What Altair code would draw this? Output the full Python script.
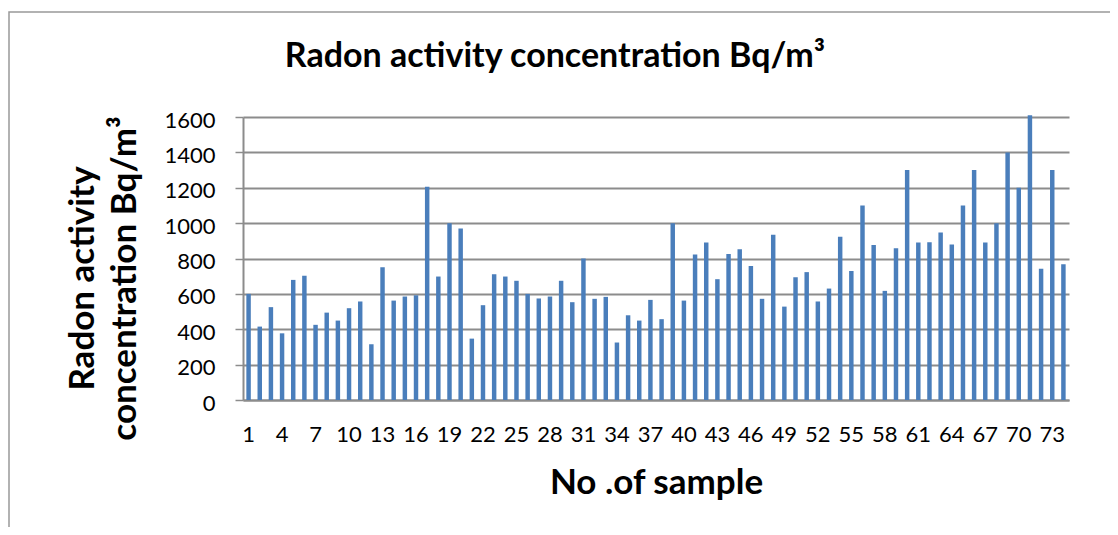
import altair as alt
import pandas as pd

samples = list(range(1, 75))
radon = [600, 415, 525, 377, 679, 702, 425, 494, 449, 519,
         557, 315, 751, 562, 585, 592, 1205, 698, 1000, 970,
         347, 536, 711, 698, 674, 600, 574, 585, 674, 553,
         800, 572, 583, 325, 479, 449, 566, 457, 1000, 562,
         823, 891, 683, 826, 853, 758, 572, 934, 528, 694,
         723, 557, 630, 923, 730, 1100, 877, 617, 858, 1300,
         891, 892, 947, 879, 1100, 1300, 891, 1000, 1400, 1200,
         1610, 742, 1300, 768]
x_tick_values = list(range(1, 75, 3))
y_tick_values = [0, 200, 400, 600, 800, 1000, 1200, 1400, 1600]

df = pd.DataFrame({"sample": samples, "radon": radon})

FONT = "Lato"

bars = alt.Chart(df).mark_bar(color="#4a7ebb").encode(
    x=alt.X(
        "sample:O",
        scale=alt.Scale(paddingInner=0.6, paddingOuter=0.3),
        axis=alt.Axis(
            values=x_tick_values,
            labelAngle=0,
            ticks=False,
            grid=False,
            domain=True,
            domainColor="#8c8c8c",
            domainWidth=2,
            labelFont=FONT,
            labelFontSize=22,
            labelColor="#000000",
            labelPadding=24,
            labelBaseline="top",
            title="No .of sample",
            titleFont=FONT,
            titleFontSize=35,
            titleFontWeight="bold",
            titleColor="#000000",
            titlePadding=20,
        ),
    ),
    y=alt.Y(
        "radon:Q",
        scale=alt.Scale(domain=[0, 1600], nice=False),
        axis=alt.Axis(
            values=y_tick_values,
            format="d",
            grid=True,
            gridColor="#8c8c8c",
            gridWidth=2,
            domain=True,
            domainColor="#8c8c8c",
            domainWidth=2,
            ticks=True,
            tickColor="#8c8c8c",
            tickSize=8,
            tickWidth=1.5,
            labelFont=FONT,
            labelFontSize=22,
            labelColor="#000000",
            labelPadding=20,
            labelOffset=3,
            title=["Radon activity", "concentration Bq/m³"],
            titleFont=FONT,
            titleFontSize=35,
            titleFontWeight="bold",
            titleColor="#000000",
            titleLineHeight=42,
            titlePadding=21,
            titleY=161,
        ),
    ),
)

frame = alt.Chart(pd.DataFrame({"k": [0]})).mark_rect(
    fill="white", fillOpacity=0, stroke="#999999", strokeWidth=1.5
).encode(
    x=alt.value(-234),
    y=alt.value(-105),
    x2=alt.value(900),
    y2=alt.value(440),
)

chart = alt.layer(frame, bars).properties(
    width=826,
    height=283,
    padding={"left": 235, "top": 109, "right": 41, "bottom": 127},
    autosize=alt.AutoSizeParams(type="none"),
    title=alt.TitleParams(
        "Radon activity concentration Bq/m³",
        font=FONT,
        fontSize=34,
        fontWeight="bold",
        color="#000000",
        anchor="middle",
        frame="group",
        dx=-101,
        dy=35,
        baseline="alphabetic",
        offset=-55,
    ),
).configure_view(stroke=None)

chart.save("out.html", embed_options={"renderer": "svg", "actions": False})
